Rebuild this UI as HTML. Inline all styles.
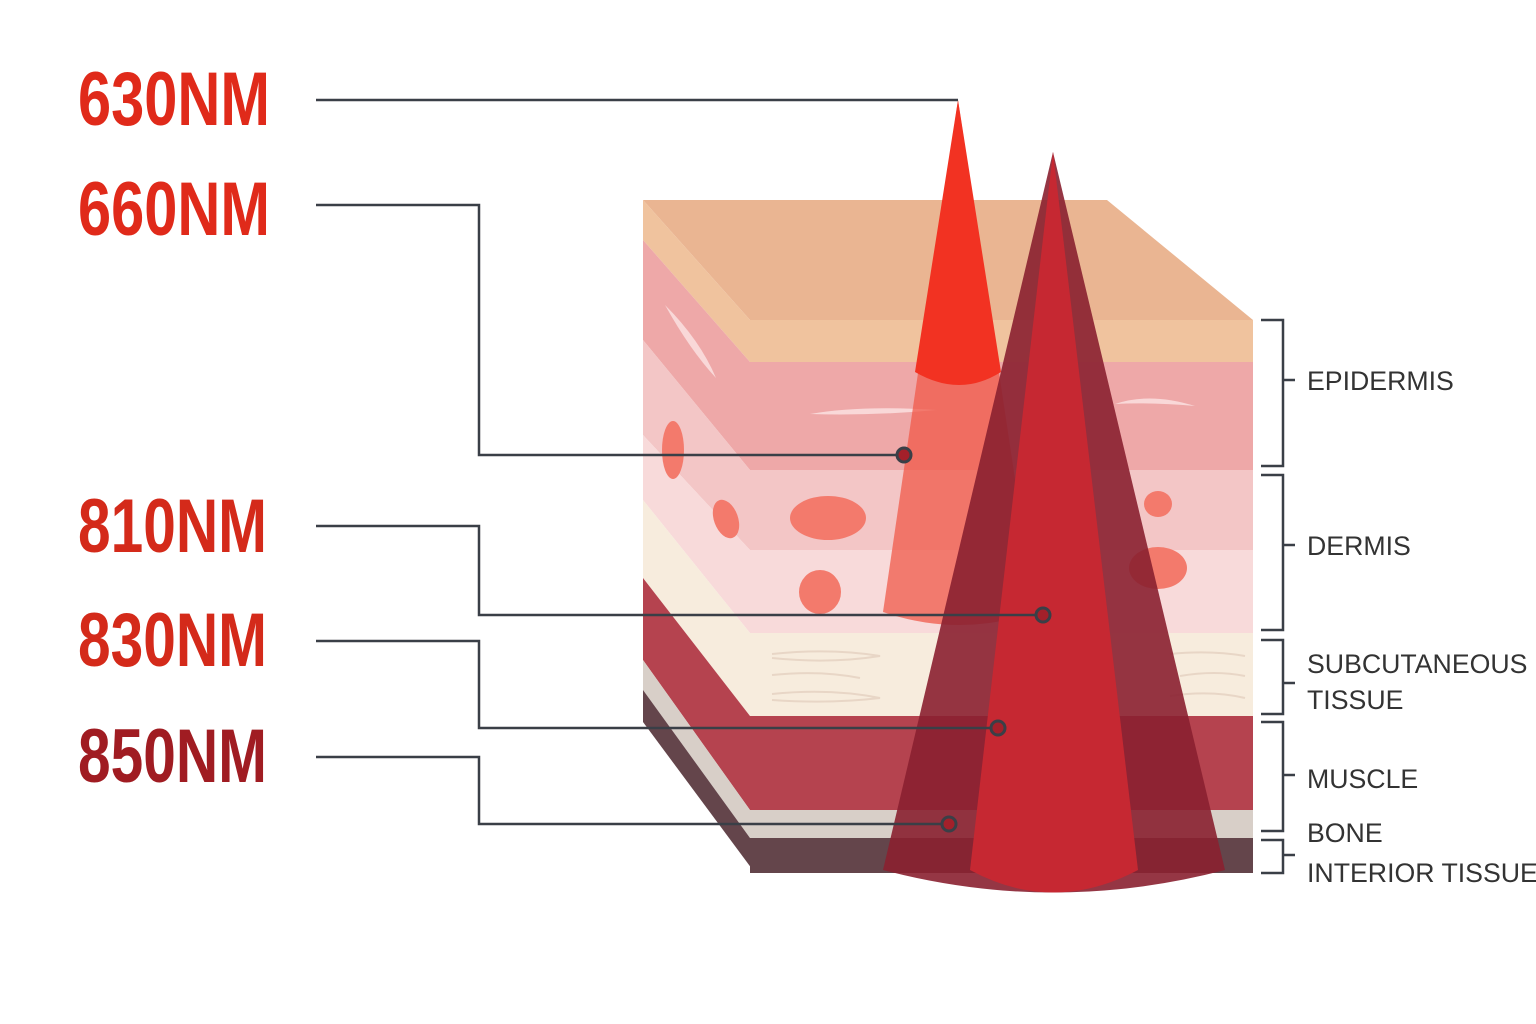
<!DOCTYPE html>
<html><head><meta charset="utf-8"><style>html,body{margin:0;padding:0;background:#fff}svg{display:block}</style></head>
<body>
<svg width="1536" height="1024" viewBox="0 0 1536 1024" xmlns="http://www.w3.org/2000/svg">
<rect width="1536" height="1024" fill="#fff"/>
<polygon points="643,200 1107,200 1253,320 750,320" fill="#eab592"/>
<polygon points="643,200 750,320 750,362 643,240" fill="#f0c39e"/>
<rect x="750" y="320" width="503" height="42" fill="#f0c39e"/>
<polygon points="643,240 750,362 750,470 643,340" fill="#eea8a8"/>
<rect x="750" y="362" width="503" height="108" fill="#eea8a8"/>
<polygon points="643,340 750,470 750,550 643,435" fill="#f3c6c6"/>
<rect x="750" y="470" width="503" height="80" fill="#f3c6c6"/>
<polygon points="643,435 750,550 750,633 643,500" fill="#f8dada"/>
<rect x="750" y="550" width="503" height="83" fill="#f8dada"/>
<polygon points="643,500 750,633 750,716 643,578" fill="#f7ecdd"/>
<rect x="750" y="633" width="503" height="83" fill="#f7ecdd"/>
<polygon points="643,578 750,716 750,810 643,660" fill="#b5434f"/>
<rect x="750" y="716" width="503" height="94" fill="#b5434f"/>
<polygon points="643,660 750,810 750,838 643,690" fill="#d8cfc8"/>
<rect x="750" y="810" width="503" height="28" fill="#d8cfc8"/>
<polygon points="643,690 750,838 755,873 643,722" fill="#64454b"/>
<rect x="750" y="838" width="503" height="35" fill="#64454b"/>
<g fill="#f37a6c">
<ellipse cx="673" cy="450" rx="11" ry="29"/>
<ellipse cx="726" cy="519" rx="12" ry="20" transform="rotate(-20 726 519)"/>
<ellipse cx="828" cy="518" rx="38" ry="22"/>
<ellipse cx="820" cy="592" rx="21" ry="22"/>
<ellipse cx="1158" cy="504" rx="14" ry="13"/>
<ellipse cx="1158" cy="568" rx="29" ry="21"/>
</g>
<g fill="#fbe4e4" opacity="0.8">
<path d="M665,305 Q700,340 716,378 Q690,350 665,305Z"/>
<path d="M810,414 Q860,405 937,410 Q870,416 810,414Z"/>
<path d="M1115,404 Q1150,392 1195,406 Q1150,402 1115,404Z"/>
</g>
<g fill="none" stroke="#e8d6c6" stroke-width="2">
<path d="M772,654 Q830,648 880,656 Q830,664 772,658"/>
<path d="M772,675 Q820,670 860,678"/>
<path d="M772,694 Q830,688 880,698 Q830,704 772,700"/>
<path d="M1170,654 Q1210,650 1245,656"/>
<path d="M1180,676 Q1215,670 1245,676"/>
<path d="M1170,696 Q1210,690 1245,698"/>
</g>
<path d="M958,100 L1035,612 Q960,638 883,612 Z" fill="#f05a4a" opacity="0.75"/>
<path d="M958,100 L1001,372 Q960,398 915,372 Z" fill="#f23222"/>
<path d="M1053,152 L1225,870 Q1053,915 883,870 Z" fill="#8a2030" opacity="0.9"/>
<path d="M1053,152 L1138,870 Q1053,915 970,870 Z" fill="#c62832"/>
<g fill="none" stroke="#3a3f47" stroke-width="2.5">
<path d="M316,100 H958"/>
<path d="M316,205 H479 V455 H897"/>
<path d="M316,526 H479 V615 H1036"/>
<path d="M316,641 H479 V728 H991"/>
<path d="M316,757 H479 V824 H942"/>
</g>
<g fill="#a3202a" stroke="#3a3f47" stroke-width="3">
<circle cx="904" cy="455" r="7"/>
<circle cx="1043" cy="615" r="7"/>
<circle cx="998" cy="728" r="7"/>
<circle cx="949" cy="824" r="7"/>
</g>
<g font-family="'Liberation Sans Narrow','Liberation Sans',sans-serif" font-weight="bold" font-size="76">
<text x="78" y="125" fill="#e02a1a" textLength="192" lengthAdjust="spacingAndGlyphs">630NM</text>
<text x="78" y="235" fill="#e02a1a" textLength="192" lengthAdjust="spacingAndGlyphs">660NM</text>
<text x="78" y="552" fill="#d42a1a" textLength="189" lengthAdjust="spacingAndGlyphs">810NM</text>
<text x="78" y="666" fill="#d42a1a" textLength="189" lengthAdjust="spacingAndGlyphs">830NM</text>
<text x="78" y="782" fill="#a01c22" textLength="189" lengthAdjust="spacingAndGlyphs">850NM</text>
</g>
<g fill="none" stroke="#3a3f47" stroke-width="2.5">
<path d="M1261,320 H1283 V466 H1261 M1283,380 H1295"/>
<path d="M1261,475 H1283 V630 H1261 M1283,545 H1295"/>
<path d="M1261,640 H1283 V714 H1261 M1283,683 H1295"/>
<path d="M1261,722 H1283 V831 H1261 M1283,775 H1295"/>
<path d="M1261,840 H1283 V873 H1261 M1283,855 H1295"/>
</g>
<g font-family="'Liberation Sans',sans-serif" font-size="26.7" fill="#333">
<text x="1307" y="390">EPIDERMIS</text>
<text x="1307" y="555">DERMIS</text>
<text x="1307" y="673">SUBCUTANEOUS</text>
<text x="1307" y="709">TISSUE</text>
<text x="1307" y="788">MUSCLE</text>
<text x="1307" y="842">BONE</text>
<text x="1307" y="882">INTERIOR TISSUE</text>
</g>
</svg>
</body></html>
